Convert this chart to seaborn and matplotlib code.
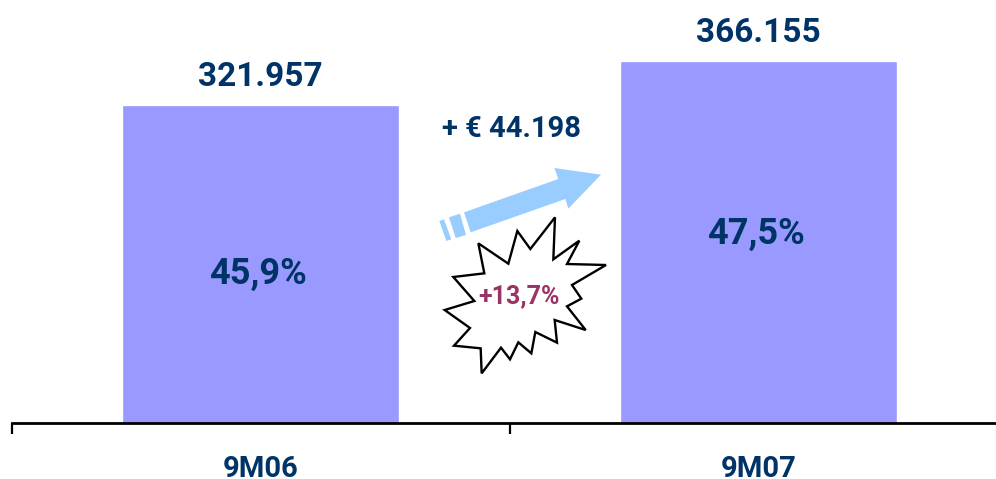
import matplotlib
matplotlib.use("Agg")
import matplotlib.pyplot as plt
import pandas as pd
import seaborn as sns
from matplotlib.patches import Polygon

periods = ["9M06", "9M07"]
totals = [321957, 366155]
total_labels = ["321.957", "366.155"]
share_labels = ["45,9%", "47,5%"]
delta_label = "+ € 44.198"
growth_label = "+13,7%"

NAVY = "#003366"

sns.set_theme(style="white")
plt.rcParams["font.family"] = ["Roboto", "DejaVu Sans"]

df = pd.DataFrame({"period": periods, "total": totals})

fig = plt.figure(figsize=(9.96, 4.79), dpi=100)

# axis runs off the right edge, same as the original slide
ax = fig.add_axes([11.7 / 996, 56 / 479, 996 / 996, 423 / 479])
sns.barplot(data=df, x="period", y="total", color="#9999FF", saturation=1, width=0.556, ax=ax)
ax.set_xlim(-0.5, 1.5)
ax.set_ylim(0, 423 * 1012.5)
ax.set_xlabel("")
ax.set_ylabel("")
ax.set_yticks([])
ax.set_xticks([-0.5, 0.5, 1.5])
ax.set_xticklabels([])
ax.tick_params(axis="x", bottom=True, length=8, width=1.6, color="black", direction="out")
ax.patch.set_alpha(0)
sns.despine(ax=ax, left=True)
ax.spines["bottom"].set_linewidth(2)
ax.spines["bottom"].set_color("black")

# hand placed: the share labels are not centred in the bars
total_offsets = [28, 28]
share_offsets = [-169, -173]

for i, name in enumerate(periods):
    ax.annotate(name, (i, 0), xytext=(0, -46), textcoords="offset pixels",
                ha="center", va="center", fontsize=21, fontweight="bold", color=NAVY, annotation_clip=False)
    ax.annotate(total_labels[i], (i, totals[i]), xytext=(0, total_offsets[i]), textcoords="offset pixels",
                ha="center", va="center", fontsize=24, fontweight="bold", color=NAVY)
    ax.annotate(share_labels[i], (i, totals[i]), xytext=(-3, share_offsets[i]), textcoords="offset pixels",
                ha="center", va="center", fontsize=26, fontweight="bold", color=NAVY)

# overlay in pixel coords for the arrow and the burst
ov = fig.add_axes([0, 0, 1, 1])
ov.set_xlim(0, 996)
ov.set_ylim(479, 0)
ov.axis("off")


def from_crop(pts):
    return [(420 + x / 3, 100 + y / 3) for x, y in pts]


arrow = [(132, 337), (415, 237), (403, 204), (543, 224), (445, 326), (436, 297), (152, 397)]
stub1 = [(87, 352), (120, 341), (138, 405), (107, 414)]
stub2 = [(58, 363), (72, 358), (94, 418), (79, 423)]
for pts in [arrow, stub1, stub2]:
    ov.add_patch(Polygon(from_crop(pts), closed=True, fc="#99CCFF", ec="none"))

burst = [(405, 352), (400, 478), (478, 422), (441, 492), (558, 495), (456, 555), (484, 596),
         (441, 619), (497, 690), (404, 660), (411, 728), (346, 696), (334, 760), (295, 727),
         (270, 778), (243, 743), (185, 820), (182, 745), (102, 737), (150, 684), (74, 630),
         (163, 603), (100, 531), (193, 520), (175, 430), (265, 491), (292, 393), (331, 447)]
ov.add_patch(Polygon(from_crop(burst), closed=True, fc="white", ec="black", lw=1.7, joinstyle="miter"))

ov.text(511.5, 129, delta_label, ha="center", va="center", fontsize=21, fontweight="bold", color=NAVY)
ov.text(519, 296, growth_label, ha="center", va="center", fontsize=18, fontweight="bold", color="#993366")

fig.savefig("out.png", dpi=100)
